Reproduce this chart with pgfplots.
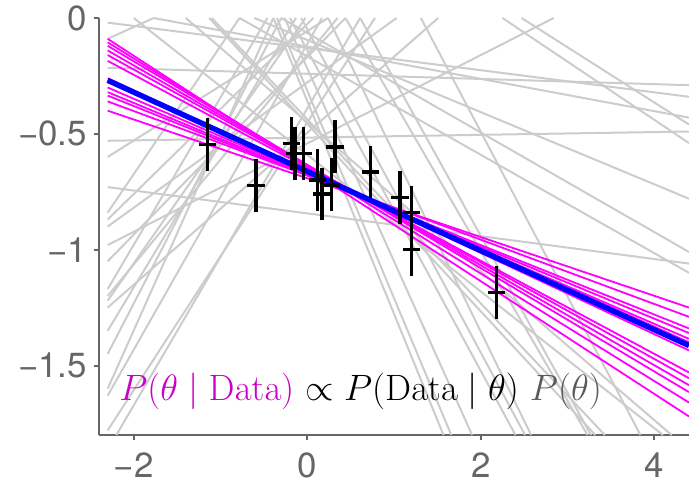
\RequirePackage{fix-cm}
\documentclass[border=0pt]{standalone}
\usepackage{pgfplots}
\pgfplotsset{compat=1.18}
\usepackage[no-math]{fontspec}
\newfontfamily\hv{TeX Gyre Heros}
\definecolor{tickgray}{RGB}{102,102,102}
\definecolor{textgray}{RGB}{90,90,90}
\definecolor{priorgray}{RGB}{204,204,204}
\definecolor{postmag}{RGB}{255,0,255}
\definecolor{txtmag}{RGB}{200,0,200}
\definecolor{fitblue}{RGB}{0,0,255}

% measured points: x, y, x error, y error
\pgfplotstableread{
x      y       ex   ey
-1.15  -0.547  0.1  0.1
-0.59  -0.722  0.1  0.1
-0.18  -0.543  0.1  0.1
-0.14  -0.584  0.1  0.1
-0.04  -0.584  0.1  0.1
 0.12  -0.700  0.1  0.12
 0.17  -0.760  0.1  0.1
 0.28  -0.720  0.1  0.1
 0.32  -0.556  0.1  0.1
 0.73  -0.665  0.1  0.1
 1.07  -0.776  0.1  0.1
 1.20  -0.840  0.1  0.1
 1.20  -1.000  0.1  0.1
 2.18  -1.184  0.1  0.1
}\pts

\begin{document}
\begin{tikzpicture}
\begin{axis}[
    scale only axis,
    width=295bp, height=208.5bp,
    xmin=-2.4, xmax=4.4, ymin=-1.8, ymax=0,
    axis lines*=left,
    axis line style={tickgray, line width=1bp, -},
    xtick={-2,0,2,4}, xticklabels={−2,0,2,4},
    ytick={-1.5,-1,-0.5,0}, yticklabels={−1.5,−1,−0.5,0},
    tick style={tickgray, line width=1bp},
    tick align=outside, major tick length=2.5bp,
    ticklabel style={font=\hv\fontsize{17.5}{20}\selectfont, text=tickgray},
    xticklabel style={yshift=-3bp},
    prior/.style={priorgray, line width=1bp, forget plot},
    post/.style={postmag, line width=0.9bp, forget plot},
]
% prior samples
\addplot[prior] coordinates {(-2.3,-1.78) (0.78,0)};
\addplot[prior] coordinates {(-2.3,-1.63) (0.17,0)};
\addplot[prior] coordinates {(-2.3,-1.45) (-0.30,0)};
\addplot[prior] coordinates {(-2.3,-1.35) (-0.13,0)};
\addplot[prior] coordinates {(-2.3,-1.25) (1.51,0)};
\addplot[prior] coordinates {(-2.3,-1.22) (-0.02,0)};
\addplot[prior] coordinates {(-2.3,-1.20) (0.35,0)};
\addplot[prior] coordinates {(-2.3,-1.17) (-0.46,0)};
\addplot[prior] coordinates {(-2.3,-0.90) (1.03,0)};
\addplot[prior] coordinates {(-2.3,-0.87) (0.07,0)};
\addplot[prior] coordinates {(-2.3,-0.84) (-0.78,0)};
\addplot[prior] coordinates {(-2.3,-0.73) (4.4,-1.06)};
\addplot[prior] coordinates {(-2.3,-0.53) (4.4,-0.49)};
\addplot[prior] coordinates {(-2.3,-0.215) (4.4,-0.29)};
\addplot[prior] coordinates {(-2.3,-0.09) (-1.77,0)};
\addplot[prior] coordinates {(-2.3,-0.02) (4.4,-0.34)};
\addplot[prior] coordinates {(-2.2,-1.8) (0.61,0)};
\addplot[prior] coordinates {(2.84,0) (-2.3,-0.98)};
\addplot[prior] coordinates {(-0.39,0) (1.57,-1.8)};
\addplot[prior] coordinates {(-0.35,0) (1.66,-1.8)};
\addplot[prior] coordinates {(-0.26,0) (1.90,-1.8)};
\addplot[prior] coordinates {(-0.20,0) (2.40,-1.8)};
\addplot[prior] coordinates {(-0.07,0) (2.51,-1.8)};
\addplot[prior] coordinates {(0.24,0) (2.58,-1.8)};
\addplot[prior] coordinates {(0.44,0) (3.23,-1.8)};
\addplot[prior] coordinates {(0.61,0) (3.27,-1.8)};
\addplot[prior] coordinates {(-1.13,0) (3.32,-1.8)};
\addplot[prior] coordinates {(-1.10,0) (3.43,-1.8)};
\addplot[prior] coordinates {(1.31,0) (3.84,-1.8)};
\addplot[prior] coordinates {(-2.0,0) (4.1,-1.8)};
\addplot[prior] coordinates {(-1.40,0) (4.2,-1.8)};
\addplot[prior] coordinates {(-0.78,0) (4.4,-1.10)};
\addplot[prior] coordinates {(2.25,0) (4.4,-0.54)};
\addplot[prior] coordinates {(2.47,0) (4.4,-0.46)};
\addplot[prior] coordinates {(-0.61,0) (4.4,-0.78)};
\addplot[prior] coordinates {(-0.30,0) (4.4,-1.01)};
\addplot[prior] coordinates {(-1.77,0) (4.4,-0.43)};
\addplot[prior] coordinates {(-2.3,-1.05) (0.44,0)};
\addplot[prior] coordinates {(-2.3,-0.60) (0.24,0)};
\addplot[prior] coordinates {(-2.3,-1.60) (-0.39,0)};
% posterior samples
\addplot[post] coordinates {(-2.3,-0.09) (4.4,-1.72)};
\addplot[post] coordinates {(-2.3,-0.105) (4.4,-1.66)};
\addplot[post] coordinates {(-2.3,-0.12) (4.4,-1.615)};
\addplot[post] coordinates {(-2.3,-0.14) (4.4,-1.585)};
\addplot[post] coordinates {(-2.3,-0.16) (4.4,-1.555)};
\addplot[post] coordinates {(-2.3,-0.185) (4.4,-1.53)};
\addplot[post] coordinates {(-2.3,-0.26) (4.4,-1.435)};
\addplot[post] coordinates {(-2.3,-0.27) (4.4,-1.40)};
\addplot[post] coordinates {(-2.3,-0.30) (4.4,-1.385)};
\addplot[post] coordinates {(-2.3,-0.32) (4.4,-1.36)};
\addplot[post] coordinates {(-2.3,-0.335) (4.4,-1.34)};
\addplot[post] coordinates {(-2.3,-0.36) (4.4,-1.29)};
\addplot[post] coordinates {(-2.3,-0.40) (4.4,-1.25)};
% best fit
\addplot[fitblue, line width=2.7bp] coordinates {(-2.3,-0.269) (4.4,-1.414)};
% data with error bars
\addplot[draw=none, mark=none, forget plot,
    error bars/.cd, x dir=both, x explicit, error mark=none,
    error bar style={draw=black, line width=1.7bp}]
    table[x=x, y=y, x error=ex] {\pts};
\addplot[draw=none, mark=none, forget plot,
    error bars/.cd, y dir=both, y explicit,
    error bar style={draw=black, line width=1.7bp},
    error mark options={draw=black, line width=1.7bp, mark size=1.6bp}]
    table[x=x, y=y, y error=ey] {\pts};
\node[anchor=base west, inner sep=0pt, font=\fontsize{18.4}{22}\selectfont]
    at (axis cs:-2.17,-1.651)
    {$\color{txtmag}P(\theta\mid\mathrm{Data})$ $\propto P(\mathrm{Data}\mid\theta)$ $\color{textgray}P(\theta)$};
\coordinate (sw) at (axis cs:-2.4,-1.8);
\coordinate (ne) at (axis cs:4.4,0);
\end{axis}
\pgfresetboundingbox
\path[use as bounding box] ([xshift=-49.5bp,yshift=-28bp]sw) rectangle ([yshift=9bp]ne);
\end{tikzpicture}
\end{document}
